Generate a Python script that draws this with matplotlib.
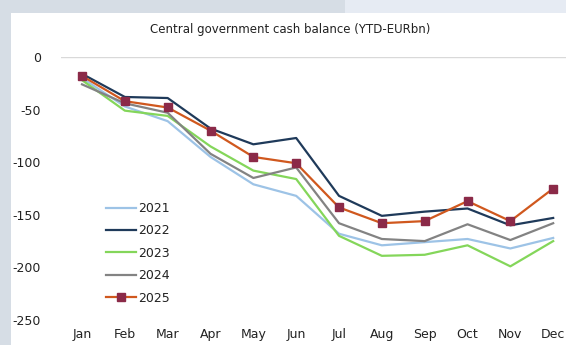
import matplotlib.pyplot as plt
from matplotlib.patches import Rectangle

months = ["Jan", "Feb", "Mar", "Apr", "May", "Jun",
          "Jul", "Aug", "Sep", "Oct", "Nov", "Dec"]

# cumulative cash balance, EUR bn
bal_2021 = [-20, -47, -61, -95, -121, -132, -168, -179, -176, -173, -182, -172]
bal_2022 = [-16, -38, -39, -68, -83, -77, -132, -151, -147, -144, -160, -153]
bal_2023 = [-22, -51, -56, -85, -108, -116, -170, -189, -188, -179, -199, -175]
bal_2024 = [-26, -44, -53, -92, -115, -105, -158, -173, -175, -159, -174, -158]
bal_2025 = [-18, -42, -48, -70, -95, -101, -143, -158, -156, -137, -156, -125]

yticks = [0, -50, -100, -150, -200, -250]

fig = plt.figure(figsize=(5.66, 3.45), dpi=100)
fig.patch.set_facecolor("#d6dde5")
# lighter band on the top right and the white chart panel
fig.patches.append(Rectangle((345 / 566, 332 / 345), 1, 1, transform=fig.transFigure,
                             facecolor="#e6ebf3", edgecolor="none", zorder=-10))
fig.patches.append(Rectangle((11 / 566, 0), 1, 332 / 345, transform=fig.transFigure,
                             facecolor="white", edgecolor="none", zorder=-10))

ax = fig.add_axes([60.6 / 566, 25 / 345, 514 / 566, 263 / 345])
ax.set_facecolor("none")

x = list(range(len(months)))
ax.plot(x, bal_2021, color="#9dc3e6", lw=1.6, label="2021", clip_on=False)
ax.plot(x, bal_2022, color="#1f3a5a", lw=1.6, label="2022", clip_on=False)
ax.plot(x, bal_2023, color="#84d65a", lw=1.6, label="2023", clip_on=False)
ax.plot(x, bal_2024, color="#838383", lw=1.6, label="2024", clip_on=False)
ax.plot(x, bal_2025, color="#d0581e", lw=1.6, label="2025", marker="s", ms=5.5,
        mfc="#8b2a48", mec="#8b2a48", clip_on=False)

ax.set_xlim(-0.5, 11.5)
ax.set_ylim(-250, 0)
ax.set_xticks(x)
ax.set_xticklabels(months)
ax.set_yticks(yticks)
ax.set_yticklabels([str(v) for v in yticks])

for s in ax.spines.values():
    s.set_visible(False)
ax.axhline(0, color="#d9d9d9", lw=1.0, zorder=0)
ax.tick_params(axis="both", length=0, labelsize=9, colors="#222222")
ax.tick_params(axis="y", pad=14)
ax.tick_params(axis="x", pad=6)

fig.text(290 / 566, 1 - 30 / 345, "Central government cash balance (YTD-EURbn)",
         ha="center", va="center", fontsize=8.5, color="#222222")

leg = ax.legend(loc="upper left", bbox_to_anchor=(40 / 514, 1 - 140 / 263),
                frameon=False, fontsize=9, handlelength=2.4, handletextpad=0.2,
                labelspacing=0.75, borderaxespad=0)
for t in leg.get_texts():
    t.set_color("#222222")

fig.savefig("out.png", dpi=100)
